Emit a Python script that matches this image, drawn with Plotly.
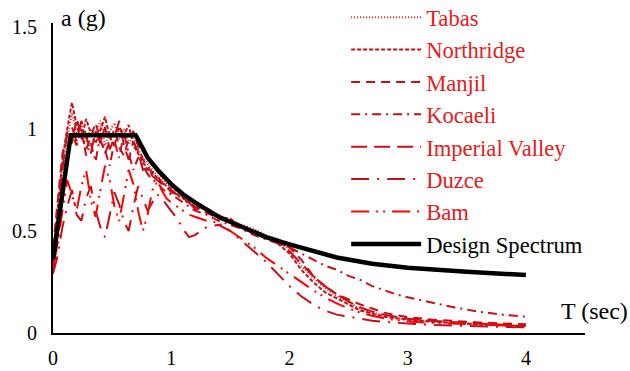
import plotly.graph_objects as go

# Period grid (s) shared by the earthquake spectra
T = [0.00, 0.04, 0.08, 0.12, 0.16, 0.20, 0.24, 0.28, 0.32, 0.36, 0.40, 0.44, 0.48,
     0.52, 0.56, 0.60, 0.64, 0.68, 0.72, 0.76, 0.80, 0.84, 0.88, 0.92, 0.96, 1.00,
     1.05, 1.10, 1.15, 1.20, 1.30, 1.40, 1.50, 1.60, 1.70, 1.80, 1.90, 2.00, 2.10,
     2.20, 2.30, 2.40, 2.50, 2.60, 2.70, 2.80, 2.90, 3.00, 3.20, 3.40, 3.60, 3.80, 4.00]

tabas = [0.33, 0.52, 0.78, 0.95, 1.08, 0.98, 1.02, 0.94, 1.00, 0.97, 1.04, 0.92, 0.99,
         1.03, 0.95, 1.00, 0.93, 0.97, 0.90, 0.86, 0.83, 0.80, 0.77, 0.76, 0.73, 0.72,
         0.69, 0.67, 0.65, 0.64, 0.60, 0.58, 0.55, 0.53, 0.51, 0.48, 0.46, 0.41, 0.33,
         0.27, 0.22, 0.18, 0.15, 0.12, 0.10, 0.085, 0.075, 0.068, 0.058, 0.05, 0.045, 0.04, 0.035]

northridge = [0.38, 0.60, 0.85, 1.00, 1.13, 1.02, 0.95, 1.05, 0.98, 0.93, 1.00, 1.06, 0.96,
              0.92, 1.01, 0.97, 1.02, 0.92, 0.88, 0.84, 0.80, 0.79, 0.76, 0.74, 0.72, 0.71,
              0.70, 0.66, 0.64, 0.62, 0.61, 0.57, 0.56, 0.52, 0.50, 0.47, 0.44, 0.39, 0.31,
              0.25, 0.20, 0.17, 0.14, 0.11, 0.095, 0.08, 0.072, 0.065, 0.055, 0.048, 0.042, 0.038, 0.033]

manjil = [0.42, 0.65, 0.88, 0.97, 0.93, 1.05, 0.98, 0.90, 0.96, 1.03, 0.95, 0.88, 0.94,
          1.00, 0.91, 0.87, 0.95, 0.99, 0.92, 0.85, 0.82, 0.78, 0.77, 0.74, 0.71, 0.70,
          0.68, 0.67, 0.63, 0.62, 0.59, 0.56, 0.55, 0.51, 0.49, 0.47, 0.45, 0.42, 0.36,
          0.28, 0.23, 0.19, 0.165, 0.14, 0.12, 0.10, 0.088, 0.078, 0.066, 0.058, 0.052, 0.047, 0.043]

kocaeli = [0.30, 0.45, 0.70, 0.90, 0.98, 0.92, 1.00, 0.87, 0.93, 0.84, 0.97, 0.90, 0.82,
           0.94, 0.86, 0.98, 0.88, 0.80, 0.86, 0.82, 0.78, 0.75, 0.74, 0.71, 0.69, 0.68,
           0.66, 0.64, 0.62, 0.60, 0.58, 0.55, 0.53, 0.51, 0.48, 0.46, 0.44, 0.42, 0.39,
           0.36, 0.33, 0.31, 0.28, 0.26, 0.23, 0.21, 0.19, 0.175, 0.15, 0.125, 0.105, 0.09, 0.08]

imperial = [0.35, 0.55, 0.80, 0.99, 1.01, 0.94, 1.04, 0.97, 0.88, 0.99, 0.93, 1.01, 0.90,
            0.96, 1.04, 0.92, 0.85, 0.94, 0.89, 0.80, 0.81, 0.77, 0.75, 0.73, 0.72, 0.69,
            0.68, 0.65, 0.64, 0.61, 0.59, 0.57, 0.54, 0.52, 0.50, 0.48, 0.45, 0.40, 0.34,
            0.28, 0.23, 0.19, 0.155, 0.125, 0.105, 0.09, 0.08, 0.07, 0.06, 0.052, 0.046, 0.041, 0.037]

duzce = [0.29, 0.38, 0.52, 0.62, 0.70, 0.58, 0.55, 0.66, 0.72, 0.60, 0.52, 0.47, 0.58,
         0.69, 0.63, 0.55, 0.50, 0.62, 0.72, 0.66, 0.60, 0.64, 0.68, 0.66, 0.63, 0.60,
         0.56, 0.51, 0.47, 0.48, 0.52, 0.53, 0.50, 0.45, 0.40, 0.35, 0.29, 0.23, 0.18,
         0.14, 0.11, 0.09, 0.08, 0.07, 0.06, 0.055, 0.05, 0.046, 0.04, 0.036, 0.033, 0.03, 0.028]

bam = [0.32, 0.44, 0.60, 0.75, 0.68, 0.60, 0.72, 0.80, 0.65, 0.57, 0.70, 0.82, 0.75,
       0.62, 0.55, 0.68, 0.80, 0.73, 0.60, 0.50, 0.58, 0.70, 0.74, 0.70, 0.66, 0.64,
       0.62, 0.60, 0.58, 0.57, 0.55, 0.54, 0.50, 0.46, 0.42, 0.37, 0.33, 0.29, 0.25,
       0.21, 0.175, 0.145, 0.12, 0.10, 0.085, 0.072, 0.063, 0.057, 0.05, 0.045, 0.04, 0.036, 0.033]

# Design spectrum
T_design = [0.00, 0.15, 0.70, 0.80, 0.90, 1.00, 1.10, 1.20, 1.40, 1.60, 1.80, 2.00,
            2.20, 2.40, 2.70, 3.00, 3.50, 4.00]
a_design = [0.36, 0.97, 0.97, 0.86, 0.79, 0.73, 0.68, 0.64, 0.57, 0.52, 0.47, 0.435,
            0.40, 0.37, 0.34, 0.32, 0.30, 0.284]

RED_TXT = "#E0201E"
series = [
    ("Tabas", tabas, "#E8141C", "1px,2px"),
    ("Northridge", northridge, "#C4101A", "4px,2px"),
    ("Manjil", manjil, "#C4101A", "9px,6px"),
    ("Kocaeli", kocaeli, "#C4101A", "9px,5px,2px,5px"),
    ("Imperial Valley", imperial, "#C4101A", "16px,7px"),
    ("Duzce", duzce, "#C4101A", "18px,8px,2px,8px"),
    ("Bam", bam, "#FF0000", "18px,7px,2px,5px,2px,7px"),
]

fig = go.Figure()
for name, vals, col, dash in series:
    fig.add_trace(go.Scatter(
        x=T, y=vals, mode="lines", line=dict(color=col, width=2, dash=dash),
        name=f"<span style='color:{RED_TXT}'>{name}</span>"))

fig.add_trace(go.Scatter(
    x=T_design, y=a_design, mode="lines", line=dict(color="black", width=4.5),
    name="Design Spectrum"))

font_family = "Liberation Serif"
fig.update_layout(
    width=630, height=371,
    margin=dict(l=53, r=45, t=23, b=38, autoexpand=False),
    paper_bgcolor="white", plot_bgcolor="white",
    font=dict(family=font_family, size=20, color="black"),
    showlegend=True,
    legend=dict(xref="paper", yref="paper", x=0.551, y=1.087,
                xanchor="left", yanchor="top", bgcolor="rgba(0,0,0,0)",
                font=dict(family=font_family, size=22.6, color="black"),
                itemwidth=70, maxheight=360),
    xaxis=dict(range=[0, 4.5], dtick=1, showgrid=False, zeroline=False,
               showline=True, linecolor="black", linewidth=2, ticks="",
               ticklabelstandoff=6,
               tickfont=dict(family=font_family, size=20)),
    yaxis=dict(range=[0, 1.52], dtick=0.5, showgrid=False, zeroline=False,
               showline=True, linecolor="black", linewidth=2, ticks="",
               ticklabelstandoff=10,
               tickfont=dict(family=font_family, size=20)),
    annotations=[
        dict(text="a (g)", xref="paper", yref="paper", x=0.012, y=1.017,
             xanchor="left", yanchor="middle", showarrow=False,
             font=dict(family=font_family, size=24, color="black")),
        dict(text="T (sec)", xref="paper", yref="paper", x=0.951, y=0.071,
             xanchor="left", yanchor="middle", showarrow=False,
             font=dict(family=font_family, size=24, color="black")),
    ],
)

fig.write_html("out.html", config={"displayModeBar": False},
               post_script="document.body.style.margin='0';")
